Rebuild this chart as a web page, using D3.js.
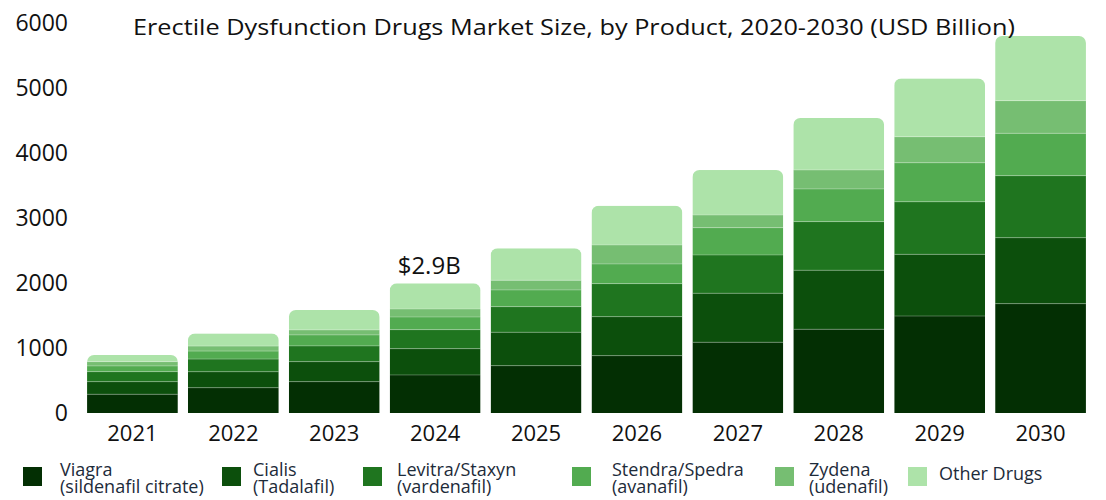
<!DOCTYPE html>
<html>
<head>
<meta charset="utf-8">
<script src="https://cdn.jsdelivr.net/npm/d3@7"></script>
<style>
  body { margin: 0; background: #fff; }
  text { font-family: "Open Sans", sans-serif; }
</style>
</head>
<body>
<div id="chart"></div>
<script>
var years = ["2021", "2022", "2023", "2024", "2025", "2026", "2027", "2028", "2029", "2030"];
var products = ["Viagra", "Cialis", "Levitra", "Stendra", "Zydena", "Other"];
var legendLabels = [
  ["Viagra", "(sildenafil citrate)"],
  ["Cialis", "(Tadalafil)"],
  ["Levitra/Staxyn", "(vardenafil)"],
  ["Stendra/Spedra", "(avanafil)"],
  ["Zydena", "(udenafil)"],
  ["Other Drugs"]
];
var colors = ["#032f03", "#0c4f0c", "#1f751f", "#52ab50", "#76be72", "#ade3a9"];

// values per product, one per year
var viagra  = [288, 389, 482, 585, 728, 882, 1088, 1288, 1492, 1682];
var cialis  = [194, 246, 308, 405, 514, 600, 754, 908, 949, 1015];
var levitra = [154, 195, 242, 292, 394, 508, 589, 748, 809, 954];
var stendra = [88, 123, 169, 195, 257, 303, 420, 503, 600, 652];
var zydena  = [66, 77, 77, 123, 149, 292, 195, 292, 400, 502];
var other   = [103, 195, 308, 395, 492, 605, 692, 800, 898, 995];

var yTicks = [0, 1000, 2000, 3000, 4000, 5000, 6000];
var annotation = {year: "2024", text: "$2.9B"};

var w = 1106, h = 500;

var rows = years.map(function(y, i) {
  return {year: y, Viagra: viagra[i], Cialis: cialis[i], Levitra: levitra[i],
          Stendra: stendra[i], Zydena: zydena[i], Other: other[i]};
});

var x = d3.scaleBand()
  .domain(years)
  .range([82, 1091])
  .paddingInner(0.1)
  .paddingOuter(0.05);

var y = d3.scaleLinear()
  .domain([0, 6000])
  .range([413, 23]);

var color = d3.scaleOrdinal().domain(products).range(colors);

var stack = d3.stack().keys(products)(rows);

var svg = d3.select("#chart").append("svg")
  .attr("width", w)
  .attr("height", h);

// rounded tops via clip paths
var defs = svg.append("defs");
defs.selectAll("clipPath")
  .data(rows)
  .enter()
    .append("clipPath")
      .attr("id", function(d, i){ return "clip" + i })
    .append("rect")
      .attr("x", function(d){ return x(d.year) })
      .attr("width", x.bandwidth())
      .attr("y", function(d){ return y(d3.sum(products, function(k){ return d[k] })) })
      .attr("height", function(d){ return y(0) - y(d3.sum(products, function(k){ return d[k] })) + 10 })
      .attr("rx", 7);

var bars = svg.append("g").selectAll("g")
  .data(rows)
  .enter()
    .append("g")
      .attr("clip-path", function(d, i){ return "url(#clip" + i + ")" });

bars.each(function(d, i) {
  var g = d3.select(this);
  stack.forEach(function(layer) {
    var s = layer[i];
    g.append("rect")
      .attr("x", x(d.year))
      .attr("width", x.bandwidth())
      .attr("y", y(s[1]))
      .attr("height", y(s[0]) - y(s[1]))
      .attr("fill", color(layer.key));
    if (s[0] > 0) {
      g.append("line")
        .attr("x1", x(d.year))
        .attr("x2", x(d.year) + x.bandwidth())
        .attr("y1", y(s[0]))
        .attr("y2", y(s[0]))
        .attr("stroke", "rgba(255,255,255,0.28)")
        .attr("stroke-width", 1);
    }
  });
});

// y axis labels
svg.append("g").selectAll("text")
  .data(yTicks)
  .enter()
    .append("text")
      .attr("x", 68)
      .attr("y", function(d){ return y(d) })
      .attr("dy", "0.35em")
      .attr("text-anchor", "end")
      .attr("font-size", 23)
      .attr("fill", "#111")
      .text(function(d){ return d });

// x axis labels
svg.append("g").selectAll("text")
  .data(years)
  .enter()
    .append("text")
      .attr("x", function(d){ return x(d) + x.bandwidth() / 2 })
      .attr("y", 433)
      .attr("dy", "0.35em")
      .attr("text-anchor", "middle")
      .attr("font-size", 22)
      .attr("fill", "#111")
      .text(function(d){ return d });

// title
svg.append("text")
  .attr("x", 574)
  .attr("y", 28)
  .attr("dy", "0.35em")
  .attr("text-anchor", "middle")
  .attr("font-family", "Noto Sans")
  .attr("font-size", 21)
  .attr("fill", "#111")
  .attr("textLength", 882)
  .attr("lengthAdjust", "spacingAndGlyphs")
  .text("Erectile Dysfunction Drugs Market Size, by Product, 2020-2030 (USD Billion)");

// annotation
var ai = years.indexOf(annotation.year);
var aTotal = d3.sum(products, function(k){ return rows[ai][k] });
svg.append("text")
  .attr("x", x(annotation.year) + x.bandwidth() / 2 - 6)
  .attr("y", y(aTotal) - 9)
  .attr("text-anchor", "middle")
  .attr("font-size", 24)
  .attr("fill", "#111")
  .text(annotation.text);

// legend
var legendX = [23, 222, 363, 572, 775, 908];
var legendTx = [60, 253, 397, 612, 809, 939];
var legend = svg.append("g").selectAll("g")
  .data(legendLabels)
  .enter()
    .append("g");

legend.append("rect")
  .attr("x", function(d, i){ return legendX[i] })
  .attr("y", 467)
  .attr("width", 19)
  .attr("height", 19)
  .attr("fill", function(d, i){ return colors[i] });

legend.each(function(d, i) {
  var t = d3.select(this).append("text")
    .attr("x", legendTx[i])
    .attr("font-size", 18)
    .attr("fill", "#1d2b3a");
  if (d.length === 1) {
    t.attr("y", 474).attr("dy", "0.35em").text(d[0]);
  } else {
    t.selectAll("tspan")
      .data(d)
      .enter()
        .append("tspan")
          .attr("x", legendTx[i])
          .attr("y", function(s, j){ return 470 + j * 17 })
          .attr("dy", "0.35em")
          .text(function(s){ return s });
  }
});
</script>
</body>
</html>
